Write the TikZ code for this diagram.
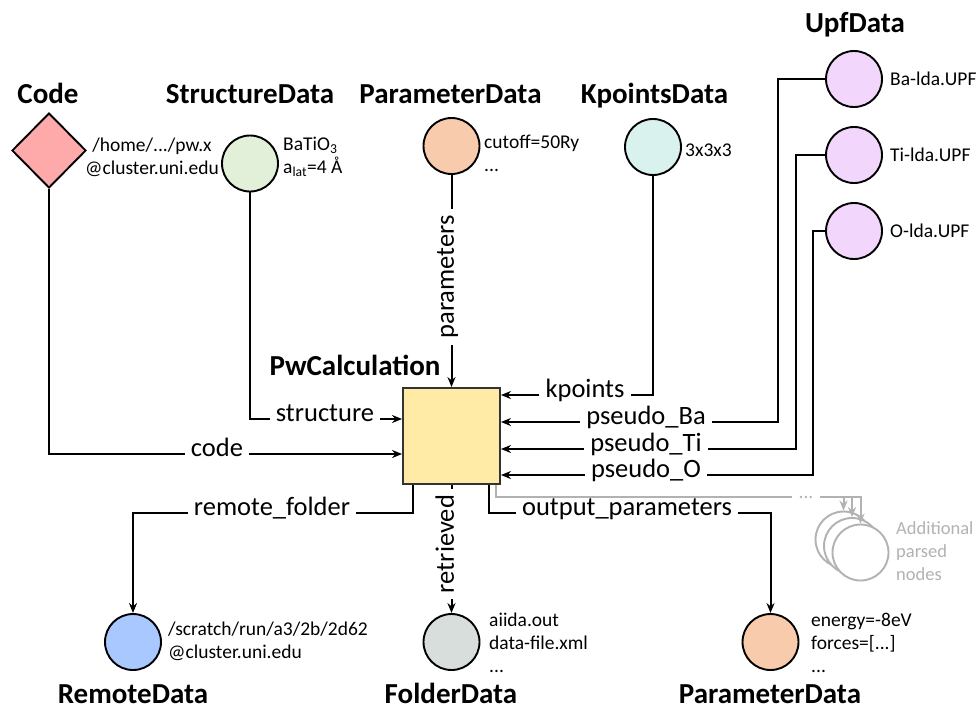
\documentclass[tikz,border=0pt]{standalone}
\usepackage{fontspec}
\setmainfont{Carlito}
\usetikzlibrary{shapes.geometric,arrows.meta,positioning}

\definecolor{codepink}{RGB}{255,170,170}
\definecolor{structgreen}{RGB}{226,240,217}
\definecolor{paramorange}{RGB}{248,203,173}
\definecolor{kptcyan}{RGB}{218,242,237}
\definecolor{upfviolet}{RGB}{242,214,252}
\definecolor{calcyellow}{RGB}{255,234,166}
\definecolor{remoteblue}{RGB}{168,200,255}
\definecolor{foldergrey}{RGB}{216,222,220}
\definecolor{parsedgrey}{RGB}{178,178,178}

\tikzset{
  datanode/.style={circle, draw=black, line width=1.9pt, minimum size=56pt, inner sep=0pt},
  typename/.style={font=\fontsize{29}{32}\selectfont\bfseries, anchor=base, inner sep=1pt},
  linkname/.style={font=\fontsize{26.5}{30}\selectfont, anchor=mid, inner xsep=6pt},
  attrs/.style={font=\fontsize{19.5}{23}\selectfont, align=left, anchor=west, inner sep=0pt},
  link/.style={line width=2pt},
  linkarrow/.style={link, -{Stealth[length=10pt,width=8pt]}},
  parsedlink/.style={line width=2pt, draw=parsedgrey},
  parsedarrow/.style={parsedlink, -{Stealth[length=10pt,width=8pt]}},
}

\begin{document}
\begin{tikzpicture}[x=1pt, y=-1pt]

  % canvas
  \fill[white] (0,0) rectangle (979,710);

  % inputs
  \node[diamond, draw=black, fill=codepink, line width=1.9pt, minimum width=74pt, minimum height=75pt, inner sep=0pt] (code) at (49,150.5) {};
  \node[typename] (codename) at (48,103) {Code};
  \node[attrs, anchor=center, align=center] (codeattrs) at (152,157) {/home/.../pw.x\\@cluster.uni.edu};

  \node[datanode, fill=structgreen] (struct) at (250,163.5) {};
  \node[typename] (structname) at (250,103) {StructureData};
  \node[attrs] (structattrs) at (283,157) {BaTiO\textsubscript{3}\\a\textsubscript{lat}=4 Å};

  \node[datanode, fill=paramorange] (param) at (451.5,146) {};
  \node[typename] (paramname) at (450.5,103) {ParameterData};
  \node[attrs] (paramattrs) at (484,153) {cutoff=50Ry\\...};

  \node[datanode, fill=kptcyan] (kpts) at (653,147) {};
  \node[typename] (kptsname) at (654.5,103) {KpointsData};
  \node[attrs] (kptsattrs) at (685,150) {3x3x3};

  \node[datanode, fill=upfviolet] (ba) at (854,79) {};
  \node[datanode, fill=upfviolet] (ti) at (854,155) {};
  \node[datanode, fill=upfviolet] (ox) at (854,231) {};
  \node[typename] (upfname) at (855,32) {UpfData};
  \node[attrs] (baattrs) at (890,79) {Ba-lda.UPF};
  \node[attrs] (tiattrs) at (890,155) {Ti-lda.UPF};
  \node[attrs] (oxattrs) at (890,231) {O-lda.UPF};

  % calculation
  \node[draw=black!80, fill=calcyellow, line width=1.9pt, minimum width=97pt, minimum height=96pt, inner sep=0pt] (calc) at (451.5,436) {};
  \node[typename] (calcname) at (355,375) {PwCalculation};

  % outputs
  \node[datanode, fill=remoteblue] (remote) at (133,642) {};
  \node[typename] (remotename) at (133,703) {RemoteData};
  \node[attrs] (remoteattrs) at (168,641) {/scratch/run/a3/2b/2d62\\@cluster.uni.edu};

  \node[datanode, fill=foldergrey] (folder) at (451.5,642) {};
  \node[typename] (foldername) at (451,703) {FolderData};
  \node[attrs] (folderattrs) at (489,643) {aiida.out\\data-file.xml\\...};

  \node[datanode, fill=paramorange] (outpar) at (770.5,642) {};
  \node[typename] (outparname) at (770,703) {ParameterData};
  \node[attrs] (outparattrs) at (811,643) {energy=-8eV\\forces=[...]\\...};

  % parsed nodes
  \node[datanode, draw=parsedgrey, fill=white] (g1) at (843.5,539.5) {};
  \node[datanode, draw=parsedgrey, fill=white] (g2) at (852,546) {};
  \node[datanode, draw=parsedgrey, fill=white] (g3) at (860.5,552.5) {};
  \node[attrs, text=parsedgrey, font=\fontsize{18.5}{23}\selectfont] (parsedattrs) at (896,551) {Additional\\parsed\\nodes};

  % link names
  \node[linkname] (lcode) at (217,454) {code};
  \node[linkname] (lstruct) at (325,419) {structure};
  \node[linkname, rotate=90] (lparam) at (451.5,277) {parameters};
  \node[linkname] (lkpts) at (585,395) {kpoints};
  \node[linkname] (lba) at (646,422) {pseudo\_Ba};
  \node[linkname] (lti) at (646,449) {pseudo\_Ti};
  \node[linkname] (lox) at (646,475) {pseudo\_O};
  \node[linkname] (lremote) at (272,513) {remote\_folder};
  \node[linkname, rotate=90] (lretr) at (451.5,544) {retrieved};
  \node[linkname] (lout) at (627,513) {output\_parameters};
  \node[text=parsedgrey, font=\fontsize{19.5}{23}\selectfont, inner xsep=6pt] (gdots) at (806,497) {...};

  % input links
  \draw[link] (code.south) |- (lcode.mid west);
  \draw[linkarrow] (lcode.mid east) -- (calc.west |- lcode.mid);
  \draw[link] (struct.south) |- (lstruct.mid west);
  \draw[linkarrow] (lstruct.mid east) -- (calc.west |- lstruct.mid);
  \draw[link] (param.south) -- (lparam.mid east);
  \draw[linkarrow] (lparam.mid west) -- (calc.north);
  \draw[link] (kpts.south) |- (lkpts.mid east);
  \draw[linkarrow] (lkpts.mid west) -- (calc.east |- lkpts.mid);
  \draw[link] (ba.west) -- ++(-47,0) |- (lba.mid east);
  \draw[linkarrow] (lba.mid west) -- (calc.east |- lba.mid);
  \draw[link] (ti.west) -- ++(-29,0) |- (lti.mid east);
  \draw[linkarrow] (lti.mid west) -- (calc.east |- lti.mid);
  \draw[link] (ox.west) -- ++(-12,0) |- (lox.mid east);
  \draw[linkarrow] (lox.mid west) -- (calc.east |- lox.mid);

  % output links
  \draw[link] ([xshift=11pt]calc.south west) |- (lremote.mid east);
  \draw[linkarrow] (lremote.mid west) -| (remote.north);
  \draw[link] (calc.south) -- (lretr.mid east);
  \draw[linkarrow] (lretr.mid west) -- (folder.north);
  \draw[link] ([xshift=-12pt]calc.south east) |- (lout.mid west);
  \draw[linkarrow] (lout.mid east) -| (outpar.north);

  % parsed links
  \draw[parsedlink] ([xshift=-5pt]calc.south east) |- (gdots.west);
  \draw[parsedarrow] (gdots.east) -| (g1.north);
  \draw[parsedarrow] (gdots.east) -| (g2.north);
  \draw[parsedarrow] (gdots.east) -| (g3.north);

\end{tikzpicture}
\end{document}
